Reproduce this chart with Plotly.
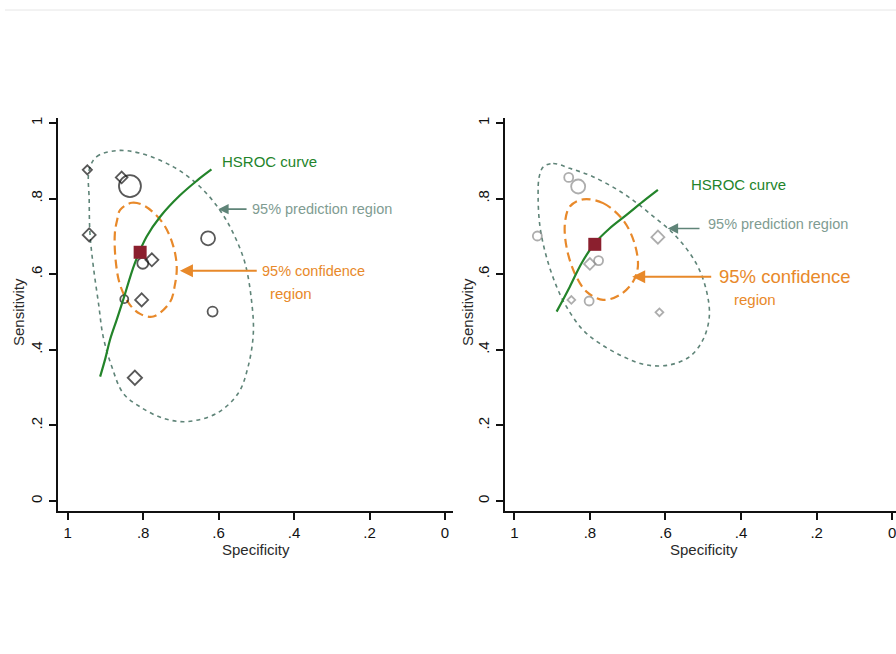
import plotly.graph_objects as go

# ---------------- data ----------------
tick_vals = [0, 0.2, 0.4, 0.6, 0.8, 1]
tick_text = ["0", ".2", ".4", ".6", ".8", "1"]

# Left panel: individual studies
L_spec = [0.948, 0.943, 0.857, 0.835, 0.801, 0.777, 0.850, 0.804, 0.628, 0.616, 0.822]
L_sens = [0.876, 0.704, 0.856, 0.833, 0.629, 0.638, 0.534, 0.532, 0.695, 0.501, 0.326]
L_size = [7, 10, 9, 22, 11, 10, 8, 10, 14, 10, 11]
L_sym = ["diamond-open", "diamond-open", "diamond-open", "circle-open", "circle-open",
         "diamond-open", "circle-open", "diamond-open", "circle-open", "circle-open", "diamond-open"]
L_sum_spec = [0.808]
L_sum_sens = [0.658]

L_hsroc_spec = [0.914, 0.900, 0.888, 0.870, 0.853, 0.822, 0.791, 0.755, 0.703, 0.658, 0.619]
L_hsroc_sens = [0.329, 0.378, 0.426, 0.480, 0.532, 0.629, 0.699, 0.752, 0.808, 0.847, 0.877]

L_pred_spec = [0.943, 0.923, 0.870, 0.808, 0.720, 0.650, 0.597, 0.561, 0.530, 0.513, 0.508,
               0.522, 0.548, 0.605, 0.685, 0.747, 0.808, 0.853, 0.883, 0.906, 0.918, 0.932,
               0.941, 0.943, 0.943]
L_pred_sens = [0.876, 0.911, 0.927, 0.920, 0.884, 0.832, 0.770, 0.708, 0.629, 0.532, 0.444,
               0.355, 0.285, 0.232, 0.210, 0.219, 0.249, 0.285, 0.355, 0.435, 0.520, 0.620,
               0.708, 0.796, 0.876]

L_conf_spec = [0.861, 0.830, 0.795, 0.747, 0.721, 0.711, 0.716, 0.729, 0.773, 0.808, 0.835,
               0.861, 0.873, 0.875, 0.869, 0.861]
L_conf_sens = [0.770, 0.789, 0.780, 0.734, 0.677, 0.620, 0.571, 0.526, 0.488, 0.495, 0.519,
               0.571, 0.638, 0.708, 0.743, 0.770]

# Right panel: individual studies
R_spec = [0.939, 0.856, 0.831, 0.800, 0.777, 0.849, 0.802, 0.620, 0.616]
R_sens = [0.701, 0.856, 0.832, 0.627, 0.636, 0.532, 0.529, 0.698, 0.499]
R_size = [9, 9, 14, 9, 9, 6, 9, 10, 6]
R_sym = ["circle-open", "circle-open", "circle-open", "diamond-open", "circle-open",
         "diamond-open", "circle-open", "diamond-open", "diamond-open"]
R_sum_spec = [0.787]
R_sum_sens = [0.679]

R_hsroc_spec = [0.888, 0.853, 0.822, 0.787, 0.748, 0.703, 0.660, 0.620]
R_hsroc_sens = [0.501, 0.567, 0.629, 0.682, 0.721, 0.757, 0.792, 0.823]

R_pred_spec = [0.923, 0.897, 0.853, 0.792, 0.712, 0.642, 0.571, 0.519, 0.492, 0.484, 0.501,
               0.536, 0.589, 0.651, 0.712, 0.774, 0.818, 0.862, 0.888, 0.915, 0.932, 0.937,
               0.934, 0.923]
R_pred_sens = [0.884, 0.893, 0.880, 0.858, 0.814, 0.761, 0.699, 0.629, 0.558, 0.488, 0.426,
               0.382, 0.360, 0.360, 0.382, 0.417, 0.452, 0.514, 0.567, 0.646, 0.726, 0.805,
               0.858, 0.884]

R_conf_spec = [0.818, 0.765, 0.712, 0.682, 0.673, 0.686, 0.721, 0.765, 0.809, 0.840, 0.862,
               0.866, 0.853, 0.818]
R_conf_sens = [0.798, 0.788, 0.743, 0.682, 0.620, 0.580, 0.545, 0.532, 0.554, 0.602, 0.673,
               0.735, 0.779, 0.798]

# ---------------- styles ----------------
GREEN = "#23842a"
PRED = "#5f8478"
PRED_TXT = "#7f9c92"
ORANGE = "#e8892a"
SQUARE = "#8b1f2e"
FONT = "Liberation Sans, Arial, sans-serif"

fig = go.Figure()

def panel(xa, ya, pred_x, pred_y, conf_x, conf_y, hs_x, hs_y, sx, sy, ssz, ssym, mcol,
          sumx, sumy):
    fig.add_trace(go.Scatter(x=pred_x, y=pred_y, mode="lines", xaxis=xa, yaxis=ya,
                             line=dict(color=PRED, width=1.6, dash="4px,4px", shape="spline"),
                             hoverinfo="skip", showlegend=False))
    fig.add_trace(go.Scatter(x=conf_x, y=conf_y, mode="lines", xaxis=xa, yaxis=ya,
                             line=dict(color=ORANGE, width=2.2, dash="9px,5px", shape="spline"),
                             hoverinfo="skip", showlegend=False))
    fig.add_trace(go.Scatter(x=sx, y=sy, mode="markers", xaxis=xa, yaxis=ya,
                             marker=dict(symbol=ssym, size=ssz, color=mcol,
                                         line=dict(color=mcol, width=1.8)),
                             showlegend=False))
    fig.add_trace(go.Scatter(x=hs_x, y=hs_y, mode="lines", xaxis=xa, yaxis=ya,
                             line=dict(color=GREEN, width=2.2, shape="spline", smoothing=1.0),
                             hoverinfo="skip", showlegend=False))
    fig.add_trace(go.Scatter(x=sumx, y=sumy, mode="markers", xaxis=xa, yaxis=ya,
                             marker=dict(symbol="square", size=13, color=SQUARE,
                                         line=dict(color=SQUARE, width=0)),
                             showlegend=False))

panel("x", "y", L_pred_spec, L_pred_sens, L_conf_spec, L_conf_sens, L_hsroc_spec, L_hsroc_sens,
      L_spec, L_sens, L_size, L_sym, "#111111", L_sum_spec, L_sum_sens)
panel("x2", "y2", R_pred_spec, R_pred_sens, R_conf_spec, R_conf_sens, R_hsroc_spec, R_hsroc_sens,
      R_spec, R_sens, R_size, R_sym, "#8a8a8a", R_sum_spec, R_sum_sens)

W, H = 896, 654
ydom = [(H - 511) / H, (H - 118) / H]
axis_common = dict(tickvals=tick_vals, ticktext=tick_text, showgrid=False, zeroline=False,
                   showline=True, linecolor="#111111", linewidth=2, ticks="outside",
                   ticklen=7, tickwidth=2, tickcolor="#111111", ticklabeloverflow="allow",
                   tickfont=dict(family=FONT, size=15, color="#111111"))

fig.update_layout(
    width=W, height=H, margin=dict(l=0, r=0, t=0, b=0),
    paper_bgcolor="white", plot_bgcolor="white",
    xaxis=dict(domain=[58 / W, 453 / W], range=[1.0257, -0.0212], anchor="y",
               ticklabelstandoff=0, **axis_common),
    yaxis=dict(domain=ydom, range=[-0.0265, 1.0132], anchor="x", tickangle=-90,
               ticklabelstandoff=1, **axis_common),
    xaxis2=dict(domain=[505 / W, 1.0], range=[1.0246, -0.010], anchor="y2",
                ticklabelstandoff=0, **axis_common),
    yaxis2=dict(domain=ydom, range=[-0.0265, 1.0132], anchor="x2", tickangle=-90,
                ticklabelstandoff=1, **axis_common),
    showlegend=False,
)

# faint line at top of page
fig.add_shape(type="line", xref="paper", yref="paper", x0=5 / W, x1=1, y0=(H - 10) / H,
              y1=(H - 10) / H, line=dict(color="#e6e6e6", width=1))

ann = []
# axis titles
for xc in [256, 704]:
    ann.append(dict(text="Specificity", xref="paper", yref="paper", x=xc / W, y=(H - 549) / H,
                    xanchor="center", yanchor="middle", showarrow=False,
                    font=dict(family=FONT, size=15, color="#2a2a2a")))
for xc in [18, 467]:
    ann.append(dict(text="Sensitivity", xref="paper", yref="paper", x=xc / W, y=(H - 312) / H,
                    xanchor="center", yanchor="middle", showarrow=False, textangle=-90,
                    font=dict(family=FONT, size=15, color="#2a2a2a")))

def labels(xa, ya, hs, pr, pr_arrow, cf_arrow, cf1, cf2, cf1size, cf2size):
    ann.append(dict(text="HSROC curve", xref=xa, yref=ya, x=hs[0], y=hs[1], xanchor="left",
                    yanchor="middle", showarrow=False,
                    font=dict(family=FONT, size=15, color=GREEN)))
    ann.append(dict(text="95% prediction region", xref=xa, yref=ya, x=pr[0], y=pr[1],
                    xanchor="left", yanchor="middle", showarrow=False,
                    font=dict(family=FONT, size=14.5, color=PRED_TXT)))
    ann.append(dict(text="", xref=xa, yref=ya, x=pr_arrow[0], y=pr_arrow[2],
                    axref=xa, ayref=ya, ax=pr_arrow[1], ay=pr_arrow[2], showarrow=True,
                    arrowhead=2, arrowsize=1.3, arrowwidth=1.6, arrowcolor=PRED))
    ann.append(dict(text="", xref=xa, yref=ya, x=cf_arrow[0], y=cf_arrow[2],
                    axref=xa, ayref=ya, ax=cf_arrow[1], ay=cf_arrow[2], showarrow=True,
                    arrowhead=2, arrowsize=1.3, arrowwidth=2, arrowcolor=ORANGE))
    ann.append(dict(text="95% confidence", xref=xa, yref=ya, x=cf1[0], y=cf1[1],
                    xanchor="left", yanchor="middle", showarrow=False,
                    font=dict(family=FONT, size=cf1size, color=ORANGE)))
    ann.append(dict(text="region", xref=xa, yref=ya, x=cf2[0], y=cf2[1],
                    xanchor="left", yanchor="middle", showarrow=False,
                    font=dict(family=FONT, size=cf2size, color=ORANGE)))

labels("x", "y", (0.596, 0.897), (0.517, 0.773), (0.601, 0.522, 0.772),
       (0.7025, 0.495, 0.609), (0.490, 0.609), (0.469, 0.550), 14.5, 15)
labels("x2", "y2", (0.537, 0.836), (0.492, 0.733), (0.594, 0.506, 0.721),
       (0.688, 0.475, 0.593), (0.463, 0.595), (0.423, 0.534), 18.5, 15)

fig.update_layout(annotations=ann)
fig.write_html("out.html")
